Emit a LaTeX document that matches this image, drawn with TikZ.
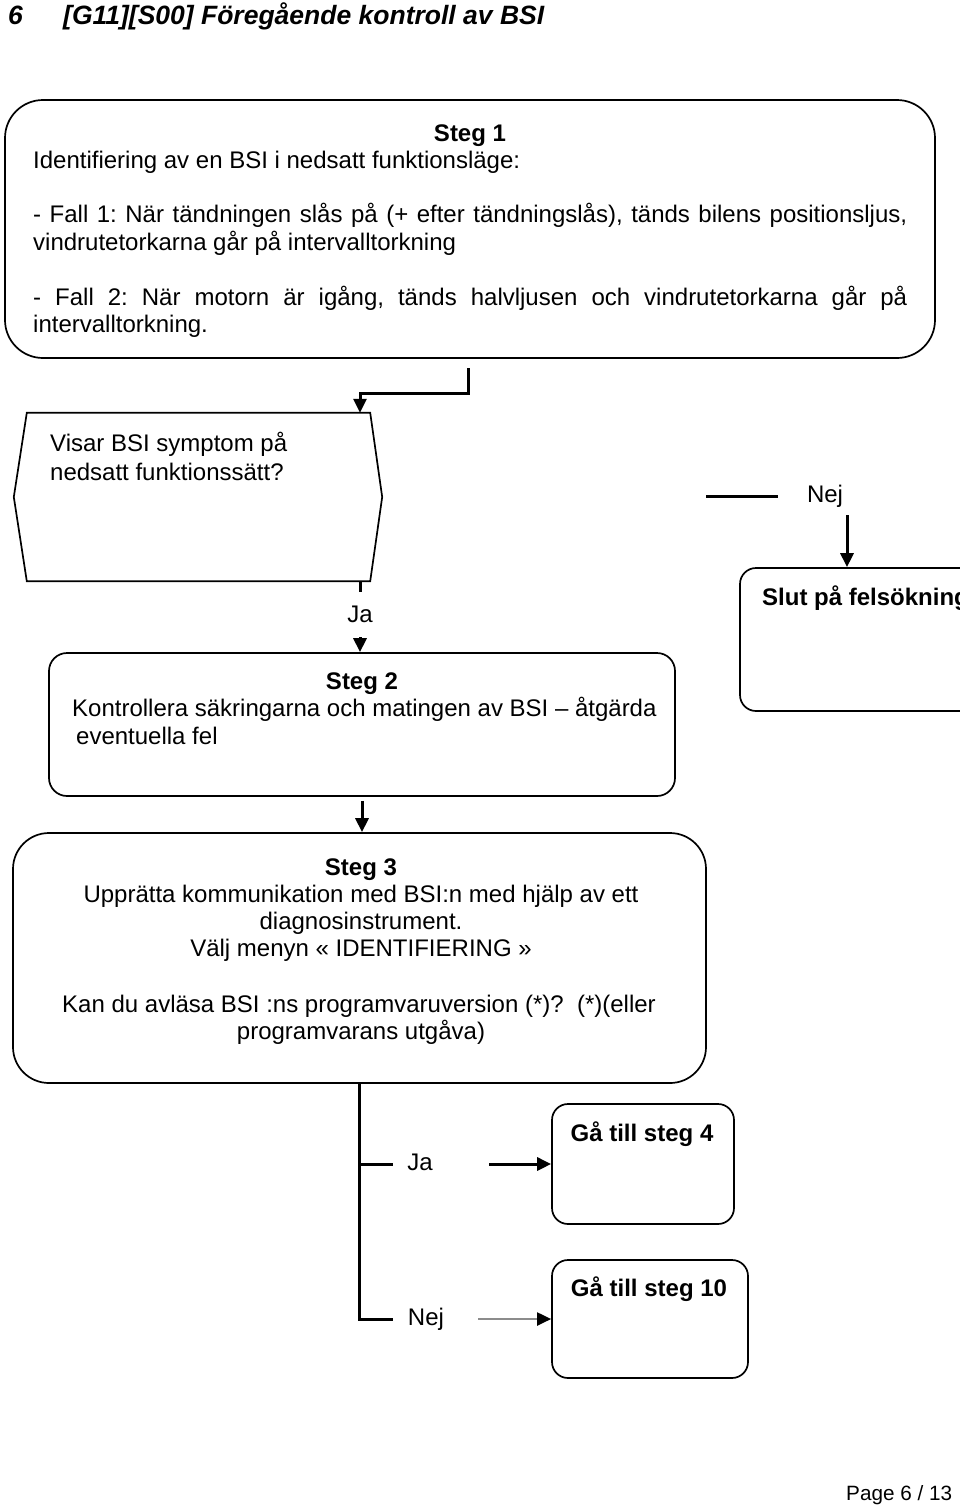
\documentclass[tikz,border=0pt]{standalone}
\usepackage{fontspec}
\setmainfont{Liberation Sans}
\usetikzlibrary{arrows.meta}
\frenchspacing
\begin{document}
\begin{tikzpicture}[x=1pt,y=-1pt,
  box/.style={draw, line width=1.7pt, inner sep=0pt, rectangle},
  conn/.style={line width=3pt},
  arr/.style={line width=3pt, -{Triangle[length=14pt,width=13pt]}},
  nejarr/.style={line width=2pt, draw=black!45, -{Triangle[length=14pt,width=13pt,color=black]}},
  txt/.style={inner sep=0pt, font=\fontsize{24}{27}\selectfont},
  btxt/.style={inner sep=0pt, font=\fontsize{24}{27}\selectfont\bfseries},
  htxt/.style={inner sep=0pt, font=\fontsize{26.5}{30}\selectfont\bfseries\itshape},
]
\fill[white] (0,0) rectangle (960,1508);
\useasboundingbox (0,0) rectangle (960,1508);

% header
\node[htxt, anchor=base west] (pnum) at (8,24) {6};
\node[htxt, anchor=base west] (title) at (63,24) {[G11][S00] Föregående kontroll av BSI};

% step 1
\node[box, rounded corners=38pt, minimum width=930pt, minimum height=258pt] (s1) at (470,229) {};
\node[btxt, anchor=base] (s1t) at (470,141) {Steg 1};
\node[txt, anchor=base west] (s1a) at (33,168) {Identifiering av en BSI i nedsatt funktionsläge:};
\node[txt, anchor=base west] (s1b) at (33,222) {\makebox[874pt][s]{- Fall 1: När tändningen slås på (+ efter tändningslås), tänds bilens positionsljus,}};
\node[txt, anchor=base west] (s1c) at (33,250) {vindrutetorkarna går på intervalltorkning};
\node[txt, anchor=base west] (s1d) at (33,305) {\makebox[874pt][s]{- Fall 2: När motorn är igång, tänds halvljusen och vindrutetorkarna går på}};
\node[txt, anchor=base west] (s1e) at (33,332) {intervalltorkning.};

% decision
\node[inner sep=0pt, minimum width=343pt, minimum height=168pt] (dec) at (198.5,497) {};
\draw[line width=1.7pt] (dec.north west) -- (dec.north east) -- ([xshift=12pt]dec.east)
  -- (dec.south east) -- (dec.south west) -- ([xshift=-13pt]dec.west) -- cycle;
\node[txt, anchor=base west] (deca) at (50,451) {Visar BSI symptom på};
\node[txt, anchor=base west] (decb) at (50,480) {nedsatt funktionssätt?};

% end box (clipped at the page edge, as in the reference)
\begin{scope}
\clip (0,0) rectangle (960,1508);
\node[box, rounded corners=16pt, minimum width=280pt, minimum height=143pt] (slut) at (880,639.5) {};
\node[btxt, anchor=base west] (slutt) at (762,605) {Slut på felsökning};
\end{scope}

% step 2
\node[box, rounded corners=18pt, minimum width=626pt, minimum height=143pt] (s2) at (362,724.5) {};
\node[btxt, anchor=base] (s2t) at (362,689) {Steg 2};
\node[txt, anchor=base west] (s2a) at (72,716) {Kontrollera säkringarna och matingen av BSI – åtgärda};
\node[txt, anchor=base west] (s2b) at (76,744) {eventuella fel};

% step 3
\node[box, rounded corners=36pt, minimum width=693pt, minimum height=250pt] (s3) at (359.5,958) {};
\node[btxt, anchor=base] (s3t) at (361,875) {Steg 3};
\node[txt, anchor=base] (s3a) at (361,902) {Upprätta kommunikation med BSI:n med hjälp av ett};
\node[txt, anchor=base] (s3b) at (361,929) {diagnosinstrument.};
\node[txt, anchor=base] (s3c) at (361,956) {Välj menyn « IDENTIFIERING »};
\node[txt, anchor=base] (s3d) at (359,1012) {Kan du avläsa BSI :ns programvaruversion (*)?~~(*)(eller};
\node[txt, anchor=base] (s3e) at (361,1039) {programvarans utgåva)};

% goto boxes
\node[box, rounded corners=16pt, minimum width=182pt, minimum height=120pt] (g4) at (643,1164) {};
\node[btxt, anchor=base] (g4t) at (642,1141) {Gå till steg 4};
\node[box, rounded corners=16pt, minimum width=196pt, minimum height=118pt] (g10) at (650,1319) {};
\node[btxt, anchor=base] (g10t) at (649,1296) {Gå till steg 10};

% footer
\node[inner sep=0pt, font=\fontsize{20.7}{24}\selectfont, anchor=base west] (page) at (846,1500) {Page 6 / 13};

% connectors
\coordinate (c1) at (468,368);
\coordinate (c2) at (360,393);
\draw[arr] (c1) |- (c2) -- (c2 |- dec.north);

\draw[conn] (c2 |- dec.south) -- ++(0,11);
\node[txt, anchor=base] (ja1) at (360,622) {Ja};
\coordinate (ja1b) at (360,637);
\draw[arr] (ja1b) -- (ja1b |- s2.north);

\coordinate (n1a) at (706,496);
\coordinate (n1b) at (778,496);
\draw[conn] (n1a) -- (n1b);
\node[txt, anchor=base] (nej1) at (825,502) {Nej};
\coordinate (n1c) at (847,515);
\draw[arr] (n1c) -- (n1c |- slut.north);

\draw[arr] ([yshift=-4pt]s2.south) -- (s2.south |- s3.north);

\draw[conn] (s3.south) -- (s3.south |- g10.west) -- ++(33,0);
\draw[conn] (s3.south |- g4.west) -- ++(33,0);
\node[txt, anchor=base] (ja2l) at (420,1170) {Ja};
\node[txt, anchor=base] (nej2l) at (426,1325) {Nej};
\coordinate (ja2) at (489,1164);
\draw[arr] (ja2) -- (g4.west);
\coordinate (nej2) at (478,1319);
\draw[nejarr] (nej2) -- (g10.west);
\end{tikzpicture}
\end{document}
